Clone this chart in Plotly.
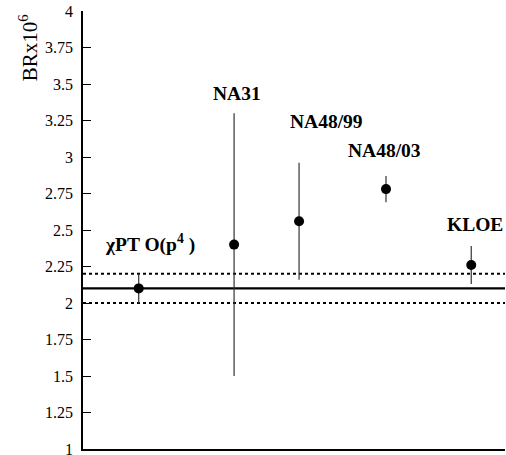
import plotly.graph_objects as go

# Data
labels = ["χPT O(p<sup>4</sup> )", "NA31", "NA48/99", "NA48/03", "KLOE"]
x_pos = [0.66, 1.79, 2.56, 3.59, 4.6]
br = [2.10, 2.40, 2.56, 2.78, 2.26]
err_plus = [0.10, 0.90, 0.40, 0.09, 0.13]
err_minus = [0.10, 0.90, 0.40, 0.09, 0.13]
theory_value = 2.1
theory_err = 0.1
y_ticks = [1, 1.25, 1.5, 1.75, 2, 2.25, 2.5, 2.75, 3, 3.25, 3.5, 3.75, 4]
y_title = "BRx10<sup>6</sup>"

# label pixel offsets (style)
label_dx = [11, 3, 27, -2, 4]
label_dy = [30, 20, 41, 25, 22]

SERIF = "Liberation Serif, Times New Roman, Times, serif"

fig = go.Figure()

fig.add_trace(go.Scatter(
    x=x_pos, y=br, mode="markers",
    marker=dict(color="black", size=10),
    error_y=dict(type="data", symmetric=False, array=err_plus, arrayminus=err_minus,
                 width=0, thickness=1.2, color="#333333"),
    showlegend=False, hoverinfo="skip", cliponaxis=False,
))

# theory lines
fig.add_shape(type="line", xref="paper", yref="y", x0=0, x1=1, y0=theory_value, y1=theory_value,
              line=dict(color="black", width=2.2), layer="below")
for yv in (theory_value - theory_err, theory_value + theory_err):
    fig.add_shape(type="line", xref="paper", yref="y", x0=0, x1=1, y0=yv, y1=yv,
                  line=dict(color="black", width=2, dash="dot"), layer="below")

for lab, xv, yv, ep, dx, dy in zip(labels, x_pos, br, err_plus, label_dx, label_dy):
    fig.add_annotation(x=xv, y=yv + ep, text="<b>" + lab + "</b>", showarrow=False,
                       xanchor="center", yanchor="middle", xshift=dx, yshift=dy,
                       font=dict(family=SERIF, size=19.5, color="black"))

# y-axis title placed at the top, as in the reference
fig.add_annotation(xref="paper", yref="paper", x=-0.13, y=0.915, text=y_title,
                   textangle=-90, showarrow=False, xanchor="center", yanchor="middle",
                   font=dict(family=SERIF, size=21, color="black"))

fig.update_layout(
    width=506, height=455,
    margin=dict(l=83, r=1, t=11, b=6, autoexpand=False),
    paper_bgcolor="white", plot_bgcolor="white",
    font=dict(family=SERIF, color="black"),
)
fig.update_xaxes(range=[0, 5], showticklabels=False, ticks="", showgrid=False, zeroline=False,
                 showline=True, linecolor="black", linewidth=1.5)
fig.update_yaxes(range=[1, 4], tickvals=y_ticks, ticktext=[f"{v:g}" for v in y_ticks],
                 ticks="inside", ticklen=8, tickcolor="black", tickwidth=1,
                 showgrid=False, zeroline=False, ticklabeloverflow="allow",
                 ticklabelstandoff=5,
                 showline=True, linecolor="black", linewidth=1.5,
                 tickfont=dict(family=SERIF, size=16, color="black"))

fig.write_html("out.html", config={"displayModeBar": False},
               post_script="document.body.style.margin='0px';document.body.style.overflow='hidden';")
